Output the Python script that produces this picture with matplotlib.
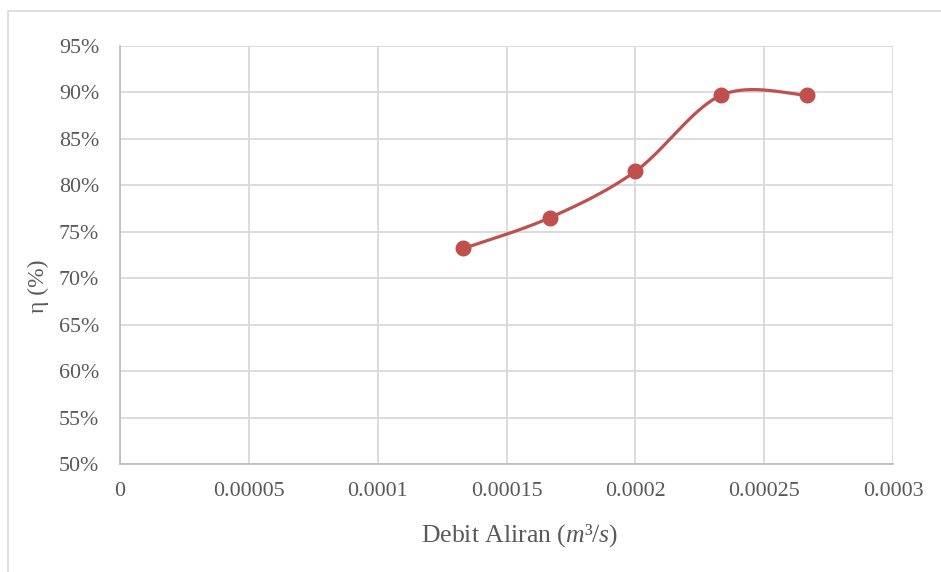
import numpy as np
import matplotlib
matplotlib.use("Agg")
import matplotlib.pyplot as plt
from matplotlib.patches import Rectangle

plt.rcParams['font.family'] = ['Liberation Serif', 'DejaVu Serif']
plt.rcParams['mathtext.fontset'] = 'custom'
plt.rcParams['mathtext.rm'] = 'Liberation Serif'
plt.rcParams['mathtext.it'] = 'Liberation Serif:italic'

# data
debit = [0.0001333, 0.0001667, 0.0002, 0.0002333, 0.0002667]
efisiensi = [73.2, 76.5, 81.5, 89.7, 89.7]

x_ticks = [0, 0.00005, 0.0001, 0.00015, 0.0002, 0.00025, 0.0003]
x_labels = ["0", "0.00005", "0.0001", "0.00015", "0.0002", "0.00025", "0.0003"]
y_ticks = [50, 55, 60, 65, 70, 75, 80, 85, 90, 95]
y_labels = [f"{v}%" for v in y_ticks]


def smooth_line(xs, ys, n=40):
    # excel-like smoothing (catmull-rom bezier between the points)
    xs = np.asarray(xs, float)
    ys = np.asarray(ys, float)
    px = np.concatenate([[xs[0]], xs, [xs[-1]]])
    py = np.concatenate([[ys[0]], ys, [ys[-1]]])
    out_x, out_y = [], []
    t = np.linspace(0, 1, n)
    for i in range(1, len(px) - 2):
        p0 = np.array([px[i], py[i]])
        p3 = np.array([px[i + 1], py[i + 1]])
        p1 = p0 + (np.array([px[i + 1], py[i + 1]]) - np.array([px[i - 1], py[i - 1]])) / 6
        p2 = p3 - (np.array([px[i + 2], py[i + 2]]) - np.array([px[i], py[i]])) / 6
        b = ((1 - t) ** 3)[:, None] * p0 + (3 * (1 - t) ** 2 * t)[:, None] * p1 \
            + (3 * (1 - t) * t ** 2)[:, None] * p2 + (t ** 3)[:, None] * p3
        out_x.extend(b[:, 0])
        out_y.extend(b[:, 1])
    return out_x, out_y


fig = plt.figure(figsize=(9.41, 5.72), dpi=100)
ax = fig.add_axes([120 / 941, 1 - 464 / 572, 773 / 941, 418 / 572])

# chart area border
fig.patches.append(Rectangle((8 / 941, -0.1), 1.2, 1 - 11 / 572 + 0.1,
                             transform=fig.transFigure, fill=False,
                             edgecolor='#d9d9d9', linewidth=1.2))

sx, sy = smooth_line(debit, efisiensi)
ax.plot(sx, sy, color='#c0504d', linewidth=2.3, solid_capstyle='round', zorder=3)
ax.plot(debit, efisiensi, 'o', color='#c0504d', markersize=10.5, zorder=4)

ax.set_xlim(0, 0.0003)
ax.set_ylim(50, 95)
ax.set_xticks(x_ticks)
ax.set_xticklabels(x_labels)
ax.set_yticks(y_ticks)
ax.set_yticklabels(y_labels)

ax.grid(True, color='#d9d9d9', linewidth=1.3)
ax.set_axisbelow(True)
for s in ['top', 'right']:
    ax.spines[s].set_visible(False)
for s in ['left', 'bottom']:
    ax.spines[s].set_color('#bfbfbf')
    ax.spines[s].set_linewidth(1.3)

ax.tick_params(length=0, labelsize=15.8, labelcolor='#595959')
ax.tick_params(axis='x', pad=13)
ax.tick_params(axis='y', pad=15)

fig.text(520 / 941, 1 - 536 / 572, r'Debit Aliran ($m³/s$)', fontsize=18.5,
         color='#595959', ha='center', va='center')
fig.text(38 / 941, 1 - 286 / 572, 'η (%)', fontsize=17, color='#595959',
         ha='center', va='center', rotation=90)

fig.savefig('out.png', dpi=100)
